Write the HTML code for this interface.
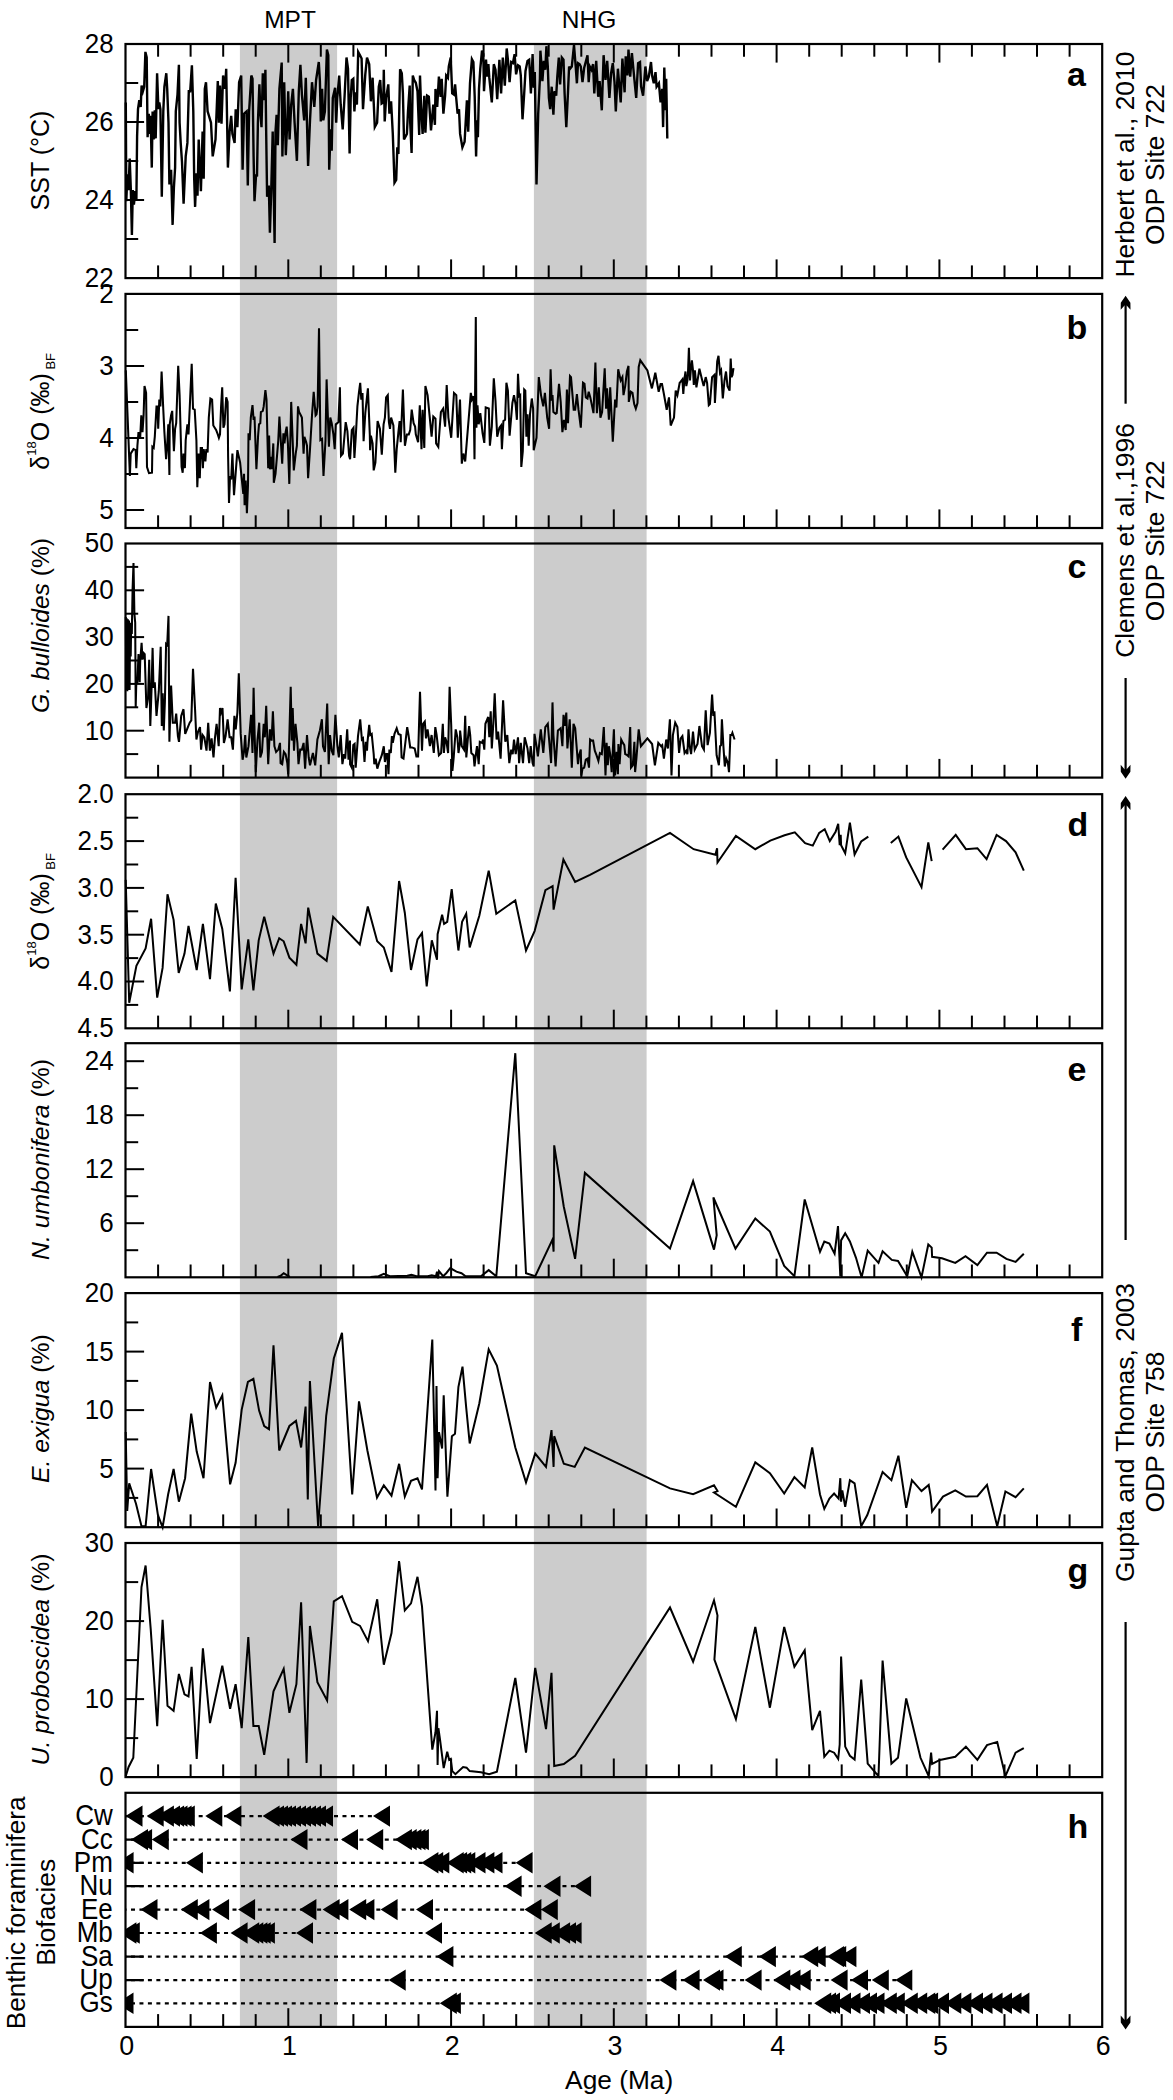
<!DOCTYPE html><html><head><meta charset="utf-8"><style>html,body{margin:0;padding:0;background:#fff;}svg{display:block;}text{font-family:"Liberation Sans", sans-serif;fill:#000;}</style></head><body>
<svg xmlns="http://www.w3.org/2000/svg" width="1173" height="2100" viewBox="0 0 1173 2100">
<rect x="0" y="0" width="1173" height="2100" fill="#fff"/>
<rect x="239.9" y="44" width="97.2" height="1982.8" fill="#cccccc"/>
<rect x="533.9" y="44" width="112.7" height="1982.8" fill="#cccccc"/>
<g fill="none" stroke="#000" stroke-linejoin="miter" stroke-miterlimit="4">
<polyline stroke-width="2.4" points="125.8,102.4 126.3,201.3 127.4,174.3 128.5,190.1 129.7,158.6 130.8,188.9 131.9,235 132.8,190.1 133.9,204.7 135.3,191.2 136.4,199.1 137.1,136.1 138,109.2 139.3,100.2 140.7,106.9 141.6,85.6 142.9,91.2 144.2,86.7 145.4,51.9 146.7,57.5 147.6,137.3 148.8,113.7 149.9,133.9 150.6,115.9 151.8,167.6 152.6,111.4 153.7,139.5 154.8,110.3 155.7,138.4 157.1,73.2 158.4,109.2 159.3,102.4 160.4,109.2 161.8,196.8 163.3,111.4 164.4,86.7 166.3,73.2 167.2,88.9 168.5,122.7 169.4,184.4 171.1,169.8 172.6,224.9 173.9,187.8 175.1,167.6 175.8,111.4 177.5,94.6 178.9,64.8 179.6,122.7 180.7,142.9 182,162 183.6,203.6 185.7,156.4 187.4,142.9 188.8,91.2 190.2,91.2 191.9,65.3 193.3,111.4 194.2,178.8 195.1,206.9 196.4,173.2 197.5,195.7 198.7,139.5 200.9,191.2 202.6,131.6 203.7,178.8 204.8,88.9 206,82.2 207.6,111.4 211,122.7 212.7,156.4 215.5,139.5 217.8,81.1 218.9,122.7 220,85.6 221.5,123.8 223.1,75.5 225.1,88.9 226.2,68.7 227.9,167.6 229.6,131.6 231.2,115.9 232.4,133.9 234.6,142.9 235.7,109.2 237.4,127.1 239.1,82.2 241.2,75.5 242.6,169.8 244,113.7 246.6,111.4 247.8,185.6 249.1,111.4 251.3,75.5 252.5,78.8 253.6,156.4 254.5,201.3 256.1,174.3 257,176.6 257.9,122.7 259.4,84.4 260.3,111.4 261.5,127.1 262.8,73.2 264.3,100.2 265.4,69.8 266.2,133.9 267.1,196.8 268.8,185.6 269.9,232.8 271.3,187.8 272.7,131.6 274.6,242.9 275.5,131.6 276.6,114.8 277.8,145.1 279.4,88.9 281.7,62.5 282.4,156.4 284.2,82.2 285.8,155.2 287.5,117 288.2,91.2 289.6,139.5 291.2,104.7 292.9,88.9 294.6,122.7 296.9,160.9 298.8,91.2 300.4,64.8 301.9,94.6 304.2,120.4 305.8,77.7 308.1,165.9 310,120.4 312,82.2 314.3,106.9 316.1,80 318.8,62 319.9,81.1 320.8,121.5 322.1,88.9 323.3,120.4 324.9,111.4 326.9,49.6 328.3,55.2 329.2,169.8 330.6,129.4 331.7,150.7 332.8,97.9 335.1,87.8 336.2,122.7 337.3,97.9 339.2,75.5 340.7,104.7 342.7,129.4 344.6,95.7 346.5,57.5 348,68.7 349.6,153.6 350.7,97.9 351.8,80 353.3,78.8 354.4,111.4 355.7,92.3 356.9,104.7 358.2,51.9 360,55.2 361.6,58.6 363,109.2 365.3,74.3 367,57.5 369.2,64.2 370.9,101.3 372.6,77.7 374.8,127.1 377.1,122.7 378.8,86.7 380.2,80 381.6,103.6 383.3,102.4 383.8,69.8 384.7,121.5 386.1,97.9 388.3,84.4 389.4,113.7 391.1,101.3 392.8,133.9 394.5,182.8 396.2,180 397.3,147.4 398.4,154.1 399.6,93.4 400.1,69.3 401.8,73.2 402.9,93.4 404,139.5 406.9,133.9 408,111.4 409.7,85.6 410.2,122.7 411.6,153 412.8,75.5 414.2,80 415.8,82.8 417.5,91.2 419.2,135 420,75.5 421.1,106.9 422.6,133.9 424.3,95.7 425.4,132.8 427.1,95.7 428.8,96.8 431,130.5 433.3,104.7 434.9,124.9 435.5,88.9 437.2,106.9 438.9,76.6 440.6,96.8 441.7,78.8 443.4,113.7 445.1,95.7 446.2,75.5 447.9,77.7 448.8,66.5 450.7,57.5 451.1,66.5 452.2,93.4 453.9,94.6 455.1,84.4 456.2,97.9 457.6,113.7 459,109.2 460.1,133.9 462.4,147.4 464.6,141.8 466.9,100.2 468.2,131.6 470,83.3 471.9,59.2 473.4,62 474.7,96.8 476.1,156.4 477,120.4 477.9,137.3 479,88.9 480.3,68.7 482,50.7 483.3,54.1 484,91.2 486,59.7 487.1,76.6 488.4,64.2 489.3,77.7 491.8,102.4 493.8,64.2 495.5,69.8 497.2,99.1 499.4,59.7 501.1,93.4 502.8,57.5 504.8,85.6 506.7,48.5 507.9,59.7 509.6,82.2 511.2,62 512.9,63.1 514.6,54.1 516.1,74.3 518,65.3 519.7,66.5 520.8,75.5 522.5,119.3 524.2,93.4 525.5,71 527.5,60.9 529.2,59.7 530.9,93.4 532.6,54.1 533.7,87.8 534.8,72.1 536.5,184.4 538.2,113.7 539.9,78.8 540.4,50.7 541.6,66.5 542.4,81.1 543.8,60.9 545.3,69.8 546.4,46.2 547.8,66.5 548.9,97.9 550.2,109.2 551.7,86.7 553.4,114.8 554.5,91.2 556.2,95.7 557.3,76.6 558.8,57.5 560.1,84.4 561.8,57.5 563.5,59.7 564.6,93.4 566.3,127.1 568,92.3 569.1,66.5 570.1,68.7 571.8,66.5 574,45.1 575.7,66.5 576.9,83.3 578,63.1 579.7,64.2 580.8,66.5 582.5,82.2 584.2,67.6 587.5,55.2 588.7,82.2 589.8,66.5 591.5,69.8 593.1,64.2 594.3,93.4 596.2,60.9 598.2,96.8 599.6,81.1 601.8,110.3 603.6,55.2 605.5,80 607.2,60.9 609.4,97.9 611.1,73.2 612.8,63.1 614.5,82.2 615.8,111.4 617.9,68.7 620.7,102.4 622.4,58.6 624.6,92.3 625.7,56.4 627.4,75.5 628.5,49.6 630.2,76.6 631.9,53 634.2,77.7 636.2,97.9 638.1,63.1 640,62 641.1,86.7 643.1,95.7 645.4,66.5 647.1,81.1 648.8,76.6 651,62 652.1,75.5 653.8,83.3 655.5,72.1 656.6,86.7 658.9,83.3 660.6,102.4 662.2,88.9 663.1,127.1 664.3,67.6 665.6,110.3 666.2,78.8 667.3,138.4"/>
<polyline stroke-width="2.05" points="125.8,370.4 129.9,476 130.7,453.6 133.5,449.1 135.7,450.2 136.3,468.2 137.4,445.7 138.5,432.2 140.2,437.8 141.3,415.3 142.5,432.2 143.6,415.3 144.5,386.1 146.1,392.9 147,467 149,473.2 152,472.7 152.4,446.8 153.7,447.9 154.8,436.7 156.5,406.4 157.6,406.4 158.2,428.8 159.3,399.6 160.4,406.4 161.6,371.5 163.3,409.7 164.4,432.2 166.1,459.2 167.2,445.7 168.3,424.3 169.4,474.9 169.7,424.3 171.1,415.3 172.2,410.9 173.9,451.3 175.1,428.8 176.2,423.2 178.2,365.9 179.6,395.1 181.6,467 182.7,472.7 183.5,453.6 184.9,468.2 185.7,440.1 187.4,424.3 188.5,434.4 189.7,408.6 191.7,363.7 193,408.6 194.7,409.7 196.4,440.1 197.3,487.3 198.7,453.6 199.8,478.3 200.7,447.9 202,447.9 202.9,468.2 203.7,449.1 205.4,461.4 206.3,449.1 207.6,452.4 208.8,417.6 210.4,398.5 212.1,399.6 213.3,425.5 216.1,430 217.8,434.4 218.9,437.8 220,434.4 221.1,406.4 222.2,387.3 223.4,427.7 224.5,424.3 226.2,397.4 227.6,401.9 228.1,455.8 229,503 230.1,476 231.2,479.4 232.4,453.6 234,495.1 235.7,472.7 237.4,450.2 240.1,462.5 241.8,479.4 243.3,494 244,473.8 244.6,505.2 245.7,480.5 246.9,513.1 248,485 248.5,433.3 249.7,440.1 250.8,417.6 252.5,405.2 253.6,419.8 254.5,416.5 256.4,469.3 258.1,435.6 259,424.3 260.3,423.2 260.9,412 262.8,410.9 263.7,406.4 265.4,390.1 266.5,399.6 268.2,468.2 269.1,435.6 269.9,469.3 271,456.9 271.8,469.3 273.3,443.4 273.8,482.8 275.5,473.8 277.2,453.6 278.3,440.1 279.4,416.5 281.1,445.7 282.2,463.7 283.4,433.3 284.5,443.4 285.6,432.2 286.7,426.6 287.9,443.4 289.3,483.9 291.2,401.9 293.8,470.4 295.7,453.6 296.9,445.7 298,406.4 299.1,412 300.8,415.3 301.9,417.6 303.6,453.6 304.4,436.7 306.2,442.3 307,445.7 308.1,478.3 310,449.1 312,415.3 313.7,391.8 315.6,415.3 316.5,414.2 317.6,406.4 319,328.3 320.4,440.1 322.1,438.9 323.5,476 325.5,440.1 326.6,379.4 328.9,446.8 330.3,417.6 331.7,423.2 333.4,434.4 334.7,449.1 335.8,424.3 337.3,423.2 338.4,422.1 339.9,387.3 341,455.8 342.9,453.6 345.7,422.1 347.4,431.1 349.1,455.8 350.1,459.2 351.8,430 353.5,427.7 354.4,458 355.7,437.8 357.4,406.4 358.9,392.9 360.2,382.8 361.3,399.6 362.5,392.9 363.6,441.2 365.3,413.1 367.9,388.4 369.8,434.4 370.1,450.2 370.9,435.6 372.6,443.4 373.7,470.4 375.4,462.5 377.6,421 379.9,428.8 381.8,454.7 383.6,424.3 384.9,417.6 386.1,397.4 387.8,395.1 388.9,422.1 390,428.8 391.1,417.6 393.4,425.5 395.3,472.7 396.7,449.1 398.4,432.2 399.6,421 400.7,442.3 402.9,389.5 404.9,445.7 406.9,434.4 408.8,434.4 410.2,430 411.7,409.7 413.6,423.2 415.1,426.6 415.8,434.4 418.1,442.3 419.8,405.2 421.5,449.1 422.6,409.7 424.3,447.9 425.4,386.1 427.6,395.1 431.6,436.7 433.3,416.5 435.5,418.7 436.1,443.4 438.3,446.8 440.9,412 443.1,408.6 445.1,426.6 446.7,385 448.4,417.6 451.2,437.8 454,392.9 456.3,395.1 457.8,437.8 460,399.6 461.8,463.7 463.3,453.6 465.2,461.4 470.8,392.9 471.9,399.6 473.6,396.2 474.5,459.2 475.8,317 476.4,427.7 477.5,405.2 478.7,424.3 480.3,413.1 482.6,433.3 484.3,442.9 485.7,407.5 488.8,408.6 489.9,445.7 491.8,426.6 493.8,378.3 495.5,400.7 497.2,436.7 499.4,427.7 501.1,425.5 501.9,449.1 503.4,421 505.1,419.8 506.4,382.8 507.9,390.6 509.6,435.6 512.4,403 514,395.1 515.7,405.2 516.9,419.8 518,373.8 519.1,396.2 520.2,395.1 521.3,467 522.8,451.3 524.2,389.5 525.3,390.6 526.4,436.7 527.5,414.2 528.7,445.7 530,414.2 531.8,398.5 533.1,408.6 533.7,450.2 536.5,437.8 538.8,377.1 541,395.1 543.3,406.4 544.9,392.9 547.2,417.6 549.1,428.8 550.6,369.3 551.7,400.7 552.5,395.1 553.4,412 555.6,413.7 556.7,413.1 559,383.9 560.7,401.9 562.4,432.2 564,419.8 565.7,430 566.9,389.5 568,423.2 570,376 571,377.1 573.7,409.7 575.2,409.7 576.9,394 578.5,409.7 580.8,427.7 583,382.8 584.5,383.9 585.8,397.4 587.5,398.5 588.7,391.8 590.3,397.4 593.5,413.1 595.4,362.5 596.9,413.1 598.8,387.3 600.4,417.6 602.1,412 604.7,368.2 606.1,408.6 607,388.4 608.9,419.8 610.2,387.3 612.8,441.8 615.1,399.6 616.4,407.5 618.2,369.3 620.7,380.5 622.4,377.1 623.5,395.1 625.2,386.1 626.9,371.5 628.5,365.9 628.8,401.9 630.8,391.8 632.5,392.9 634.2,404.1 635.8,408.6 637.5,403 638.7,367 640.3,360.3 647.4,370.4 651.9,388.4 655.3,372.7 658.7,391.8 660.6,383.9 662,383.9 663.9,394 666.7,409.7 669,397.4 670.7,425.5 674,417.6 675.7,390.6 677.4,395.1 679.7,382.8 680.7,381.6 682.4,379.4 683.3,394 684.4,379.4 685.5,371.5 686.3,386.1 687.4,380.5 688,372.7 688.9,347.9 690,380.5 690.8,370.4 691.9,360.3 693,370.4 693.8,385 694.9,370.4 696.4,387.3 698.1,377.1 699.4,368.7 702,379.4 703.7,386.1 705.7,377.1 707.1,382.8 708.8,405.2 709.9,404.1 712.1,377.1 714.4,374.9 714.9,403 716.1,382.8 717.2,361.4 718.5,355.8 720,372.7 721.1,370.4 722.8,398.5 724.5,380.5 726,371.5 727.5,386.1 729.6,390.6 730.7,358.6 731.6,377.1 732.5,374.9 733.5,368.2"/>
<polyline stroke-width="2.05" points="125.8,617 126.3,690.1 126.7,618.2 127.3,691.2 127.9,619.3 128.4,690.1 129,620.4 129.6,690.1 130.1,622.7 130.7,656.4 131.2,622.7 131.8,633.9 132.6,588.9 133.5,563.1 134.4,613.7 135.2,622.7 135.7,706.9 136.3,682.2 137.4,682.2 138.5,654.1 139.7,682.2 140.2,662 141.6,642.9 142.5,659.7 143.6,653 144.7,654.1 146.4,708 148.1,696.8 149.2,659.7 150.3,726 151.5,690.1 152.6,647.9 153.5,687.8 154.8,682.2 156.5,715.9 158.8,691.2 160.7,646.8 161.8,726 162.7,693.4 163.8,730.5 164.9,701.3 166.1,644 167.2,645.1 168.5,615.9 169.4,741.8 171.1,685.6 172.8,722.7 175.1,722.7 176.2,713.7 177.9,736.1 179,741.8 181.2,715.9 183.5,709.2 185.2,733.9 187.4,728.3 189.7,722.7 191.3,720.4 193,668.7 195.1,710.3 196.4,739.5 198.1,731.6 200,727.1 201.1,749.6 202.6,735 204.3,737.3 206.5,750.7 208.2,722.7 209.9,750.7 211.6,738.4 213.5,757.5 214.9,738.4 216.6,723.8 218.7,746.2 220,708 221.1,712.5 222.5,708 223.9,742.9 225.6,736.1 227.6,719.3 229.6,737.3 231.2,737.3 232.9,749.6 234.4,715.9 235.7,729.4 237.4,712.5 238.8,673.2 240.7,733.9 242.6,759.7 244,751.9 245.2,735 246.3,757.5 248.5,746.2 251.1,714.8 252.5,753 253.6,687.8 254.7,737.3 255.8,772.1 257.5,739.5 259.2,722.7 260.3,757.5 262,751.9 263.7,723.8 264.8,737.3 266.2,705.8 268.2,764.2 269.9,729.4 271.6,740.6 272.9,711.4 274.4,746.2 276.1,751.9 278.3,749.6 280,742.9 280.6,763.1 282.2,764.2 283.9,751.9 285.6,754.1 287.3,763.1 288.2,774.3 289.3,737.3 290.7,686.7 291.8,740.6 292.7,708 294,750.7 295.5,723.8 297.4,742.9 298.5,764.2 300.2,749.6 301.9,749.6 303.6,742.9 305.1,768.7 307,735 308.7,757.5 310,765.3 312.9,753 315.2,765.3 317.4,739.5 319.9,730.5 321.9,719.3 323,746.2 324.9,751.9 327.2,703.6 328.7,764.2 330,735 331.7,750.7 333.4,755.2 335.4,714.8 337.3,745.1 338.8,757.5 340.7,735 342.4,764.2 344,754.1 345.2,758.6 347.2,729.4 348.5,759.7 350,740.6 350.1,764.2 351.8,767.6 353.3,745.1 354.6,744 355.7,767.6 358,736.1 360.2,719.3 361.9,739.5 363,738.4 364.5,762 365.8,741.8 367,750.7 367.5,741.8 369.2,724.9 370.3,735 371.7,733.9 373.7,754.1 374.3,764.2 375.7,758.6 377.3,768.7 379.3,762 381.8,755.2 383.8,746.2 384.9,762 386.3,754.1 387.2,754.1 388.5,774.3 389.4,749.6 390.8,753 391.9,736.1 392.8,742.9 394.5,733.9 396.7,728.3 398.4,733.9 400.7,735 401.6,757.5 403.5,758.6 405.2,744 407.2,727.1 408.5,735 410.2,747.4 411.9,747.4 414.7,748.5 416.4,756.4 418.1,756.4 420,691.8 422,750.7 423.1,723.8 424.8,721.5 426,738.4 427.6,729.4 429.9,746.2 431.6,735 433.8,753 435.3,727.1 436.6,735 438.9,755.2 441.1,753 442.8,723.8 443.9,753 445.1,737.3 446.5,741.8 448.1,753 449.6,686.7 451.2,724.9 452.4,771 453.7,757.5 455.7,729.4 457.4,737.3 458.5,753 460,741.8 460.1,730.5 461.8,746.2 464,749.6 465.2,715.9 466.3,757.5 467.8,739.5 469.1,726 470.2,735 471.3,753 473.6,755.2 474.5,766.5 475.8,755.2 477,746.2 478.7,764.2 479.8,741.8 482,742.9 483.1,739.5 484.3,749.6 485.4,723.8 488.2,717 489.3,737.3 490.7,711.4 491.8,748.5 493.3,723.8 494.7,693.4 496.6,739.5 498.1,731.6 500.6,758.6 503.1,700.2 505.3,741.8 507.3,735 509.3,763.1 511.2,749.6 512.7,754.1 514,739.5 515.7,754.1 518,737.3 519.1,763.1 520.8,742.9 523,763.1 524.7,737.3 527.5,748.5 529.2,763.1 530.7,746.2 532.6,763.1 533.7,766.5 534.5,733.9 536.5,746.2 537.9,756.4 540.8,729.4 543.3,753 545.3,727.1 547.8,723.8 548.7,735 551.1,763.1 552.5,702.4 553.4,735 555.6,766.5 557.9,730.5 560.7,728.3 562.4,746.2 563.5,714.8 564.8,726 566.3,712.5 567.4,748.5 569.7,719.3 571.8,767.6 573.5,723.8 575.2,728.3 578,764.2 579.1,755.2 580.8,749.6 581.3,775.5 582.5,768.7 584.2,767.6 585.8,759.7 587.5,758.6 589,767.6 590.1,739.5 591.5,740.6 593.1,740.6 594.8,750.7 596.5,755.2 598.4,760.9 599.9,753 601.8,754.1 603.8,727.1 605.5,775.5 606.6,742.9 607.8,765.3 608.9,746.2 610.3,755.2 611.7,772.1 612.8,750.7 613.9,729.4 615.1,775.5 616.7,751.9 617.9,774.3 618.4,744 619.6,764.2 621.2,739.5 622.9,742.9 624.3,745.1 625.2,754.1 627.2,755.2 628.5,756.4 630.2,727.1 631,767.6 632.8,765.3 634.4,741.8 635.1,772.1 636.4,758.6 638.7,729.4 640.9,746.2 647.4,738.4 652.1,744 654.9,765.3 658.3,742.9 661.1,746.2 662.2,745.1 663.9,758.6 666.2,739.5 667.9,748.5 668.4,739.5 669.9,719.3 671.5,775.5 672.9,735 675.2,722.7 677.4,727.1 679.1,753 680.7,738.4 682.4,736.1 684.6,753 686.3,750.7 687.4,754.1 688.5,729.4 689.7,746.2 691.1,754.1 693,731.6 694.7,749.6 697.5,744 699.4,726 702,746.2 703.9,749.6 705.7,710.3 707.6,745.1 709.9,732.8 712.1,694.6 713.3,715.9 714.4,711.4 716.6,755.2 718.9,765.3 720,746.2 721.1,745.1 721.9,719.3 723.4,746.2 724.8,766.5 726.2,758.6 727.9,763.1 729,772.1 730.4,735 731.6,735 732.4,732.8 734.6,739.5"/>
<polyline stroke-width="2.0" points="125.7,879.9 129.2,1002.7 136.4,965.9 145.6,948.5 151.1,918.8 157.2,997.6 162.6,967.9 167.5,894.3 173.6,919.8 178.7,973 184.5,953.6 188.5,926 196.7,970 202.9,923.9 210,979.2 215.8,903.5 222.3,929 229.9,991.4 235.6,877.9 241.7,989.4 248.3,939.3 253.4,990.4 258.7,940.3 264.2,916.8 273.5,953.6 279.2,938.2 283.7,941.3 289.4,957.7 296.4,964.8 301.1,923.9 305.6,943.4 308.2,907.6 317.4,953.6 326.6,960.8 333.2,916.8 359.8,944.4 367.8,906.5 377.2,941.3 383.8,947.5 391.5,972 399.1,881 404.8,912.7 411,970 417.5,939.3 422,933.1 426.7,986.3 431.8,940.3 437,959.7 437.6,934.2 442.1,914.7 444.1,923.9 447.2,921.9 451.7,889.1 458.4,950.5 462.1,921.9 466.2,913.7 469.7,947.5 479.3,915.7 488.7,870.7 496.3,913.7 515.3,900.4 526,950.5 534.6,931.1 545.4,890.2 552.6,886.1 553.6,909.6 563.4,859.5 575.1,882 590,874.8 670,832.9 693.6,849.2 715.4,854.8 717.1,848.2 717.3,855.4 717.5,862.5 735.9,835.9 755.3,849.2 770.3,840.6 784.6,835.3 794.8,832.3 805.1,843.1 812.8,845.6 819.2,832.9 824.7,829.2 829.8,841.1 835.6,831.9 838.2,823.7 839.7,845.2 840.7,834.9 841.1,845.2 845.2,853.3 849.9,822.6 854.6,854.4 861.2,841.5 868.3,836.6"/>
<polyline stroke-width="2.0" points="890.8,843.1 898.4,836.6 906.2,857.4 921.5,887.1 928.3,842.5 931.7,861.1"/>
<polyline stroke-width="2.0" points="942.6,849.7 955.7,834.9 965.9,849.2 977.4,848.2 986.6,859.1 996.6,834.9 1006,841.1 1015.6,852.3 1023.8,870.7"/>
<polyline stroke-width="2.0" points="277.5,1276.9 280.6,1275.8 283.7,1273.2 286.8,1275.2 289.8,1276.9"/>
<polyline stroke-width="2.0" points="370.5,1276.9 378.6,1276.2 383.8,1273.8 389.9,1276.2 407.3,1275.8 411.4,1274.8 416.5,1276.2 427.7,1276.2 431.8,1275.2 435.9,1276.2 437,1271.7 438,1278.3 439,1271.1 443.1,1276.2 446.2,1273.2 450.3,1268.1 456.4,1271.7 461.5,1273.2 465.6,1276.2 480.9,1276.2 488.7,1270.1 496.3,1276.2 515.3,1053.2 526,1273.2 535.2,1276.2 552.6,1239.4 553.6,1251.7 554.2,1145.3 563.8,1206.7 575.1,1258.9 584.9,1172.9 670,1248.6 693.1,1181.1 714,1249.6 716.7,1235.3 713.4,1197.5 735.5,1248.6 755.3,1218.5 769.9,1231.6 784.2,1266 794.4,1276.2 804.7,1199.5 820,1251.7 824.3,1241.5 829.4,1243.5 834.6,1253.7 838,1226.1 840.3,1276.2 841.1,1240.4 845.2,1233.3 849.9,1241.5 856,1257.8 861.6,1277.3 867.7,1250.7 878.5,1262.9 882.6,1251.3 891.8,1259.9 898,1260.9 907.2,1276.2 912.3,1251.7 921.5,1277.3 928.3,1244.5 931.7,1247.6 932.1,1256.8 942,1258.2 955.3,1262.9 965.5,1256.2 977.4,1265 987,1252.7 996.6,1252.7 1006.4,1258.9 1015.6,1261.9 1023.8,1253.7"/>
<polyline stroke-width="2.0" points="125.7,1432.1 127.2,1510.9 129.2,1483.3 136,1503.7 141.5,1526.2 145.6,1526.2 151.1,1469 157.9,1515 162.6,1527.3 168.1,1494.5 173.6,1469 178.9,1501.7 185.1,1478.2 191.2,1413.7 196.7,1451.6 203.5,1478.2 210,1382 216.2,1407.6 222.3,1395.3 230.1,1484.3 235.6,1462.8 241.7,1409.6 247.9,1382 253.4,1378.9 259.1,1410.6 264.2,1426 269,1429.1 273.5,1345.2 279.2,1450.5 289.4,1426 296,1420.9 301.1,1447.5 305.6,1406.6 307.8,1499.6 309.9,1381 318.1,1526.2 326.2,1415.8 333.8,1358.5 342,1332.9 352.2,1494.5 359,1401.4 367.4,1450.5 377,1497.6 383.8,1485.3 391.5,1495.6 399.1,1463.8 404.8,1496.6 411,1480.8 417.5,1478.2 422,1489.4 432.3,1339.6 435.5,1490.4 436.5,1386.1 437.6,1478.2 439,1432.1 442.1,1448.5 443.7,1395.3 447.4,1496.6 451.9,1436.2 455,1433.8 458.4,1387.1 462.5,1366.7 466.2,1407.6 469.7,1443.4 479.3,1403.5 488.7,1349.3 496.9,1365.6 515.3,1447.5 526,1482.3 535.2,1453.6 546,1466.9 551.5,1430.1 553.6,1466.9 554.2,1436.2 563.8,1463.8 574.7,1466.9 584.9,1447.5 670,1488.4 693.1,1494.1 714,1485.3 717.5,1491.1 714,1492.5 735.9,1506.8 755.3,1462.4 769.9,1473.1 784.2,1493.5 794.4,1477.1 804.7,1487.4 812.2,1447.5 820,1494.5 824.3,1508.9 829.4,1498.6 834.1,1493.5 838.6,1498.6 840.3,1478.2 841.1,1501.7 842.3,1490.4 845.2,1506.8 849.9,1480.2 854.6,1483.3 861.2,1526.2 867.3,1515 882.6,1472 891.4,1480.2 898.4,1455.7 906.2,1507.8 911.9,1480.2 921.5,1491.1 928.7,1484.9 930.7,1496.6 932.1,1511.5 943,1496.6 955.3,1490.4 965.9,1496.6 977.4,1496.2 987,1484.9 997.2,1526.2 1005.4,1491.5 1015.6,1497.2 1023.8,1488.4"/>
<polyline stroke-width="2.0" points="125.7,1776.2 128.6,1767 133.3,1757.8 141.5,1587 145.6,1565.5 150.7,1628.9 157.2,1726.1 162.6,1619.7 167.5,1705.7 173.6,1710.8 178.9,1673.9 184.5,1694.4 188.5,1696.5 191.6,1666.8 196.7,1758.9 202.9,1648.4 210,1723.1 222.3,1665.8 230.1,1708.7 235.6,1684.2 241.7,1728.2 248.3,1637.1 253.4,1726.1 258.7,1726.1 264.2,1754.8 273.5,1691.3 283.7,1668.8 289.4,1712.8 296.4,1684.2 301.1,1602.3 306.6,1762.9 309.9,1625.9 317.4,1682.1 327.1,1700.5 333.8,1601.3 342,1596.2 352.2,1621.8 360,1625.9 368,1641.2 377.2,1599.3 383.8,1664.7 391.5,1633 399.1,1561 404.8,1610.5 411,1603.4 417.5,1576.8 422,1606.4 432.3,1749.6 435.5,1732.3 437,1710.8 437.6,1765 438.4,1728.2 440,1739.4 443.7,1768.1 447.2,1751.7 449.2,1759.9 450.7,1758.9 452.3,1771.1 455.4,1774.2 463.1,1767 466.6,1767.7 469.7,1771.1 480.9,1772.2 489.1,1774.2 496.9,1771.7 515.3,1678 526,1752.7 535.2,1667.8 546,1729.2 551.5,1672.9 554.2,1766 563.8,1764 575.1,1755.8 670,1607.5 693.1,1661.7 714,1600.3 717.5,1615.6 714.4,1659.6 735.9,1719 755.3,1626.9 769.9,1707.7 784.2,1626.9 794.4,1666.8 804.7,1650.4 812.2,1730.2 820,1710.8 824.3,1756.8 829.4,1750.7 834.1,1752.7 838.2,1758.9 839.7,1744.5 841.1,1656.6 845.2,1746.6 849.9,1755.8 854.6,1759.5 861.2,1679.7 867.7,1763.6 878.5,1776.2 882.6,1660.6 891.4,1763.6 898,1757.8 906.2,1698.5 920.5,1757.8 928.7,1776.2 931.1,1752.7 932.1,1764 939.9,1759.9 955.3,1756.8 965.9,1746.6 977.4,1759.9 987,1745.1 997.2,1741.9 1005.4,1776.2 1015.6,1752.7 1023.8,1748.2"/>
</g>
<defs><clipPath id="cph"><rect x="125.3" y="1792" width="977" height="235"/></clipPath></defs>
<g clip-path="url(#cph)">
<g stroke="#000" stroke-width="2.2" stroke-dasharray="4 4.46" stroke-dashoffset="2.78" fill="none">
<line x1="125.3" y1="1816.1" x2="381.5" y2="1816.1"/>
<line x1="125.3" y1="1839.6" x2="420.4" y2="1839.6"/>
<line x1="125.3" y1="1862.8" x2="524.1" y2="1862.8"/>
<line x1="125.3" y1="1886.2" x2="582.6" y2="1886.2"/>
<line x1="125.3" y1="1909.6" x2="549.3" y2="1909.6"/>
<line x1="125.3" y1="1933" x2="573.1" y2="1933"/>
<line x1="125.3" y1="1956.6" x2="847.9" y2="1956.6"/>
<line x1="125.3" y1="1980.1" x2="903.8" y2="1980.1"/>
<line x1="125.3" y1="2003.3" x2="1020.9" y2="2003.3"/>
</g>
<g stroke="#000" stroke-width="2.2">
<line x1="125.3" y1="1816.1" x2="143.8" y2="1816.1"/>
<line x1="125.3" y1="1839.6" x2="143.8" y2="1839.6"/>
<line x1="125.3" y1="1862.8" x2="143.8" y2="1862.8"/>
<line x1="125.3" y1="1886.2" x2="143.8" y2="1886.2"/>
<line x1="125.3" y1="1933" x2="143.8" y2="1933"/>
<line x1="125.3" y1="1956.6" x2="143.8" y2="1956.6"/>
<line x1="125.3" y1="1980.1" x2="143.8" y2="1980.1"/>
</g>
<path fill="#000" d="M125.5,1816.1L142.5,1805.4L142.5,1826.8ZM146.7,1816.1L163.7,1805.4L163.7,1826.8ZM156.9,1816.1L173.9,1805.4L173.9,1826.8ZM163,1816.1L180,1805.4L180,1826.8ZM167.1,1816.1L184.1,1805.4L184.1,1826.8ZM170.5,1816.1L187.5,1805.4L187.5,1826.8ZM174.6,1816.1L191.6,1805.4L191.6,1826.8ZM177.8,1816.1L194.8,1805.4L194.8,1826.8ZM205.3,1816.1L222.3,1805.4L222.3,1826.8ZM224.4,1816.1L241.4,1805.4L241.4,1826.8ZM262.6,1816.1L279.6,1805.4L279.6,1826.8ZM267,1816.1L284,1805.4L284,1826.8ZM271,1816.1L288,1805.4L288,1826.8ZM275,1816.1L292,1805.4L292,1826.8ZM279,1816.1L296,1805.4L296,1826.8ZM284,1816.1L301,1805.4L301,1826.8ZM289,1816.1L306,1805.4L306,1826.8ZM294,1816.1L311,1805.4L311,1826.8ZM299,1816.1L316,1805.4L316,1826.8ZM304,1816.1L321,1805.4L321,1826.8ZM309,1816.1L326,1805.4L326,1826.8ZM316,1816.1L333,1805.4L333,1826.8ZM373,1816.1L390,1805.4L390,1826.8ZM131,1839.6L148,1828.9L148,1850.3ZM135.1,1839.6L152.1,1828.9L152.1,1850.3ZM151.8,1839.6L168.8,1828.9L168.8,1850.3ZM290.5,1839.6L307.5,1828.9L307.5,1850.3ZM341,1839.6L358,1828.9L358,1850.3ZM366.2,1839.6L383.2,1828.9L383.2,1850.3ZM394.9,1839.6L411.9,1828.9L411.9,1850.3ZM399.7,1839.6L416.7,1828.9L416.7,1850.3ZM404.4,1839.6L421.4,1828.9L421.4,1850.3ZM408.5,1839.6L425.5,1828.9L425.5,1850.3ZM411.9,1839.6L428.9,1828.9L428.9,1850.3ZM116.6,1862.8L133.6,1852.1L133.6,1873.5ZM185.9,1862.8L202.9,1852.1L202.9,1873.5ZM421.4,1862.8L438.4,1852.1L438.4,1873.5ZM426.2,1862.8L443.2,1852.1L443.2,1873.5ZM432.3,1862.8L449.3,1852.1L449.3,1873.5ZM446.7,1862.8L463.7,1852.1L463.7,1873.5ZM450.1,1862.8L467.1,1852.1L467.1,1873.5ZM454.2,1862.8L471.2,1852.1L471.2,1873.5ZM458.3,1862.8L475.3,1852.1L475.3,1873.5ZM468.5,1862.8L485.5,1852.1L485.5,1873.5ZM477.4,1862.8L494.4,1852.1L494.4,1873.5ZM485.5,1862.8L502.5,1852.1L502.5,1873.5ZM515.6,1862.8L532.6,1852.1L532.6,1873.5ZM504.6,1886.2L521.6,1875.5L521.6,1896.9ZM543.5,1886.2L560.5,1875.5L560.5,1896.9ZM574.1,1886.2L591.1,1875.5L591.1,1896.9ZM140.5,1909.6L157.5,1898.9L157.5,1920.3ZM180.8,1909.6L197.8,1898.9L197.8,1920.3ZM192.4,1909.6L209.4,1898.9L209.4,1920.3ZM212.1,1909.6L229.1,1898.9L229.1,1920.3ZM238.1,1909.6L255.1,1898.9L255.1,1920.3ZM299.4,1909.6L316.4,1898.9L316.4,1920.3ZM322.6,1909.6L339.6,1898.9L339.6,1920.3ZM331.4,1909.6L348.4,1898.9L348.4,1920.3ZM349.2,1909.6L366.2,1898.9L366.2,1920.3ZM357.4,1909.6L374.4,1898.9L374.4,1920.3ZM380.6,1909.6L397.6,1898.9L397.6,1920.3ZM416,1909.6L433,1898.9L433,1920.3ZM524.4,1909.6L541.4,1898.9L541.4,1920.3ZM540.8,1909.6L557.8,1898.9L557.8,1920.3ZM119.4,1933L136.4,1922.3L136.4,1943.7ZM122.8,1933L139.8,1922.3L139.8,1943.7ZM199.9,1933L216.9,1922.3L216.9,1943.7ZM230.6,1933L247.6,1922.3L247.6,1943.7ZM242.2,1933L259.2,1922.3L259.2,1943.7ZM246.3,1933L263.3,1922.3L263.3,1943.7ZM250.4,1933L267.4,1922.3L267.4,1943.7ZM253.7,1933L270.7,1922.3L270.7,1943.7ZM257.9,1933L274.9,1922.3L274.9,1943.7ZM296,1933L313,1922.3L313,1943.7ZM425,1933L442,1922.3L442,1943.7ZM534.7,1933L551.7,1922.3L551.7,1943.7ZM542.8,1933L559.8,1922.3L559.8,1943.7ZM553.1,1933L570.1,1922.3L570.1,1943.7ZM559,1933L576,1922.3L576,1943.7ZM564.6,1933L581.6,1922.3L581.6,1943.7ZM436.4,1956.6L453.4,1945.9L453.4,1967.3ZM724.8,1956.6L741.8,1945.9L741.8,1967.3ZM758.9,1956.6L775.9,1945.9L775.9,1967.3ZM801.2,1956.6L818.2,1945.9L818.2,1967.3ZM808.7,1956.6L825.7,1945.9L825.7,1967.3ZM827.1,1956.6L844.1,1945.9L844.1,1967.3ZM829.2,1956.6L846.2,1945.9L846.2,1967.3ZM839.4,1956.6L856.4,1945.9L856.4,1967.3ZM388.7,1980.1L405.7,1969.4L405.7,1990.8ZM659.4,1980.1L676.4,1969.4L676.4,1990.8ZM682.6,1980.1L699.6,1969.4L699.6,1990.8ZM703,1980.1L720,1969.4L720,1990.8ZM706.5,1980.1L723.5,1969.4L723.5,1990.8ZM744.6,1980.1L761.6,1969.4L761.6,1990.8ZM773.3,1980.1L790.3,1969.4L790.3,1990.8ZM783.5,1980.1L800.5,1969.4L800.5,1990.8ZM793.7,1980.1L810.7,1969.4L810.7,1990.8ZM830.6,1980.1L847.6,1969.4L847.6,1990.8ZM851,1980.1L868,1969.4L868,1990.8ZM871.8,1980.1L888.8,1969.4L888.8,1990.8ZM895.3,1980.1L912.3,1969.4L912.3,1990.8ZM116.5,2003.3L133.5,1992.6L133.5,2014ZM439.8,2003.3L456.8,1992.6L456.8,2014ZM443.9,2003.3L460.9,1992.6L460.9,2014ZM814.2,2003.3L831.2,1992.6L831.2,2014ZM819,2003.3L836,1992.6L836,2014ZM823,2003.3L840,1992.6L840,2014ZM834,2003.3L851,1992.6L851,2014ZM843.5,2003.3L860.5,1992.6L860.5,2014ZM853,2003.3L870,1992.6L870,2014ZM860,2003.3L877,1992.6L877,2014ZM867.5,2003.3L884.5,1992.6L884.5,2014ZM879.8,2003.3L896.8,1992.6L896.8,2014ZM887.8,2003.3L904.8,1992.6L904.8,2014ZM900.8,2003.3L917.8,1992.6L917.8,2014ZM910.2,2003.3L927.2,1992.6L927.2,2014ZM918.2,2003.3L935.2,1992.6L935.2,2014ZM921.1,2003.3L938.1,1992.6L938.1,2014ZM932,2003.3L949,1992.6L949,2014ZM944.3,2003.3L961.3,1992.6L961.3,2014ZM954.4,2003.3L971.4,1992.6L971.4,2014ZM966,2003.3L983,1992.6L983,2014ZM975.5,2003.3L992.5,1992.6L992.5,2014ZM985.6,2003.3L1002.6,1992.6L1002.6,2014ZM995,2003.3L1012,1992.6L1012,2014ZM1004.5,2003.3L1021.5,1992.6L1021.5,2014ZM1012.4,2003.3L1029.4,1992.6L1029.4,2014Z"/>
</g>
<g font-size="26" text-anchor="end">
<text transform="translate(112.8,1825.1) scale(1,1.1)">Cw</text>
<text transform="translate(112.8,1848.6) scale(1,1.1)">Cc</text>
<text transform="translate(112.8,1871.8) scale(1,1.1)">Pm</text>
<text transform="translate(112.8,1895.2) scale(1,1.1)">Nu</text>
<text transform="translate(112.8,1918.6) scale(1,1.1)">Ee</text>
<text transform="translate(112.8,1942) scale(1,1.1)">Mb</text>
<text transform="translate(112.8,1965.6) scale(1,1.1)">Sa</text>
<text transform="translate(112.8,1989.1) scale(1,1.1)">Up</text>
<text transform="translate(112.8,2012.3) scale(1,1.1)">Gs</text>
</g>
<g fill="none" stroke="#000" stroke-width="2.2" stroke-linecap="square">
<rect x="125.5" y="44" width="976.7" height="234.1"/>
<rect x="125.5" y="293.9" width="976.7" height="234.1"/>
<rect x="125.5" y="543.5" width="976.7" height="234.1"/>
<rect x="125.5" y="794.2" width="976.7" height="234.1"/>
<rect x="125.5" y="1043.2" width="976.7" height="234.1"/>
<rect x="125.5" y="1293.1" width="976.7" height="234.1"/>
<rect x="125.5" y="1543" width="976.7" height="234.1"/>
<rect x="125.5" y="1792.8" width="976.7" height="234.1"/>
</g>
<g stroke="#000" stroke-width="2">
<line x1="158.1" y1="278.1" x2="158.1" y2="265.4"/>
<line x1="158.1" y1="44" x2="158.1" y2="56.7"/>
<line x1="190.6" y1="278.1" x2="190.6" y2="265.4"/>
<line x1="190.6" y1="44" x2="190.6" y2="56.7"/>
<line x1="223.2" y1="278.1" x2="223.2" y2="265.4"/>
<line x1="223.2" y1="44" x2="223.2" y2="56.7"/>
<line x1="255.7" y1="278.1" x2="255.7" y2="265.4"/>
<line x1="255.7" y1="44" x2="255.7" y2="56.7"/>
<line x1="288.3" y1="278.1" x2="288.3" y2="259.4"/>
<line x1="288.3" y1="44" x2="288.3" y2="62.6"/>
<line x1="320.8" y1="278.1" x2="320.8" y2="265.4"/>
<line x1="320.8" y1="44" x2="320.8" y2="56.7"/>
<line x1="353.4" y1="278.1" x2="353.4" y2="265.4"/>
<line x1="353.4" y1="44" x2="353.4" y2="56.7"/>
<line x1="385.9" y1="278.1" x2="385.9" y2="265.4"/>
<line x1="385.9" y1="44" x2="385.9" y2="56.7"/>
<line x1="418.5" y1="278.1" x2="418.5" y2="265.4"/>
<line x1="418.5" y1="44" x2="418.5" y2="56.7"/>
<line x1="451.1" y1="278.1" x2="451.1" y2="259.4"/>
<line x1="451.1" y1="44" x2="451.1" y2="62.6"/>
<line x1="483.6" y1="278.1" x2="483.6" y2="265.4"/>
<line x1="483.6" y1="44" x2="483.6" y2="56.7"/>
<line x1="516.2" y1="278.1" x2="516.2" y2="265.4"/>
<line x1="516.2" y1="44" x2="516.2" y2="56.7"/>
<line x1="548.7" y1="278.1" x2="548.7" y2="265.4"/>
<line x1="548.7" y1="44" x2="548.7" y2="56.7"/>
<line x1="581.3" y1="278.1" x2="581.3" y2="265.4"/>
<line x1="581.3" y1="44" x2="581.3" y2="56.7"/>
<line x1="613.8" y1="278.1" x2="613.8" y2="259.4"/>
<line x1="613.8" y1="44" x2="613.8" y2="62.6"/>
<line x1="646.4" y1="278.1" x2="646.4" y2="265.4"/>
<line x1="646.4" y1="44" x2="646.4" y2="56.7"/>
<line x1="678.9" y1="278.1" x2="678.9" y2="265.4"/>
<line x1="678.9" y1="44" x2="678.9" y2="56.7"/>
<line x1="711.5" y1="278.1" x2="711.5" y2="265.4"/>
<line x1="711.5" y1="44" x2="711.5" y2="56.7"/>
<line x1="744" y1="278.1" x2="744" y2="265.4"/>
<line x1="744" y1="44" x2="744" y2="56.7"/>
<line x1="776.6" y1="278.1" x2="776.6" y2="259.4"/>
<line x1="776.6" y1="44" x2="776.6" y2="62.6"/>
<line x1="809.2" y1="278.1" x2="809.2" y2="265.4"/>
<line x1="809.2" y1="44" x2="809.2" y2="56.7"/>
<line x1="841.7" y1="278.1" x2="841.7" y2="265.4"/>
<line x1="841.7" y1="44" x2="841.7" y2="56.7"/>
<line x1="874.3" y1="278.1" x2="874.3" y2="265.4"/>
<line x1="874.3" y1="44" x2="874.3" y2="56.7"/>
<line x1="906.8" y1="278.1" x2="906.8" y2="265.4"/>
<line x1="906.8" y1="44" x2="906.8" y2="56.7"/>
<line x1="939.4" y1="278.1" x2="939.4" y2="259.4"/>
<line x1="939.4" y1="44" x2="939.4" y2="62.6"/>
<line x1="971.9" y1="278.1" x2="971.9" y2="265.4"/>
<line x1="971.9" y1="44" x2="971.9" y2="56.7"/>
<line x1="1004.5" y1="278.1" x2="1004.5" y2="265.4"/>
<line x1="1004.5" y1="44" x2="1004.5" y2="56.7"/>
<line x1="1037" y1="278.1" x2="1037" y2="265.4"/>
<line x1="1037" y1="44" x2="1037" y2="56.7"/>
<line x1="1069.6" y1="278.1" x2="1069.6" y2="265.4"/>
<line x1="1069.6" y1="44" x2="1069.6" y2="56.7"/>
<line x1="158.1" y1="528" x2="158.1" y2="515.3"/>
<line x1="190.6" y1="528" x2="190.6" y2="515.3"/>
<line x1="223.2" y1="528" x2="223.2" y2="515.3"/>
<line x1="255.7" y1="528" x2="255.7" y2="515.3"/>
<line x1="288.3" y1="528" x2="288.3" y2="509.4"/>
<line x1="320.8" y1="528" x2="320.8" y2="515.3"/>
<line x1="353.4" y1="528" x2="353.4" y2="515.3"/>
<line x1="385.9" y1="528" x2="385.9" y2="515.3"/>
<line x1="418.5" y1="528" x2="418.5" y2="515.3"/>
<line x1="451.1" y1="528" x2="451.1" y2="509.4"/>
<line x1="483.6" y1="528" x2="483.6" y2="515.3"/>
<line x1="516.2" y1="528" x2="516.2" y2="515.3"/>
<line x1="548.7" y1="528" x2="548.7" y2="515.3"/>
<line x1="581.3" y1="528" x2="581.3" y2="515.3"/>
<line x1="613.8" y1="528" x2="613.8" y2="509.4"/>
<line x1="646.4" y1="528" x2="646.4" y2="515.3"/>
<line x1="678.9" y1="528" x2="678.9" y2="515.3"/>
<line x1="711.5" y1="528" x2="711.5" y2="515.3"/>
<line x1="744" y1="528" x2="744" y2="515.3"/>
<line x1="776.6" y1="528" x2="776.6" y2="509.4"/>
<line x1="809.2" y1="528" x2="809.2" y2="515.3"/>
<line x1="841.7" y1="528" x2="841.7" y2="515.3"/>
<line x1="874.3" y1="528" x2="874.3" y2="515.3"/>
<line x1="906.8" y1="528" x2="906.8" y2="515.3"/>
<line x1="939.4" y1="528" x2="939.4" y2="509.4"/>
<line x1="971.9" y1="528" x2="971.9" y2="515.3"/>
<line x1="1004.5" y1="528" x2="1004.5" y2="515.3"/>
<line x1="1037" y1="528" x2="1037" y2="515.3"/>
<line x1="1069.6" y1="528" x2="1069.6" y2="515.3"/>
<line x1="158.1" y1="777.5" x2="158.1" y2="764.8"/>
<line x1="190.6" y1="777.5" x2="190.6" y2="764.8"/>
<line x1="223.2" y1="777.5" x2="223.2" y2="764.8"/>
<line x1="255.7" y1="777.5" x2="255.7" y2="764.8"/>
<line x1="288.3" y1="777.5" x2="288.3" y2="758.9"/>
<line x1="320.8" y1="777.5" x2="320.8" y2="764.8"/>
<line x1="353.4" y1="777.5" x2="353.4" y2="764.8"/>
<line x1="385.9" y1="777.5" x2="385.9" y2="764.8"/>
<line x1="418.5" y1="777.5" x2="418.5" y2="764.8"/>
<line x1="451.1" y1="777.5" x2="451.1" y2="758.9"/>
<line x1="483.6" y1="777.5" x2="483.6" y2="764.8"/>
<line x1="516.2" y1="777.5" x2="516.2" y2="764.8"/>
<line x1="548.7" y1="777.5" x2="548.7" y2="764.8"/>
<line x1="581.3" y1="777.5" x2="581.3" y2="764.8"/>
<line x1="613.8" y1="777.5" x2="613.8" y2="758.9"/>
<line x1="646.4" y1="777.5" x2="646.4" y2="764.8"/>
<line x1="678.9" y1="777.5" x2="678.9" y2="764.8"/>
<line x1="711.5" y1="777.5" x2="711.5" y2="764.8"/>
<line x1="744" y1="777.5" x2="744" y2="764.8"/>
<line x1="776.6" y1="777.5" x2="776.6" y2="758.9"/>
<line x1="809.2" y1="777.5" x2="809.2" y2="764.8"/>
<line x1="841.7" y1="777.5" x2="841.7" y2="764.8"/>
<line x1="874.3" y1="777.5" x2="874.3" y2="764.8"/>
<line x1="906.8" y1="777.5" x2="906.8" y2="764.8"/>
<line x1="939.4" y1="777.5" x2="939.4" y2="758.9"/>
<line x1="971.9" y1="777.5" x2="971.9" y2="764.8"/>
<line x1="1004.5" y1="777.5" x2="1004.5" y2="764.8"/>
<line x1="1037" y1="777.5" x2="1037" y2="764.8"/>
<line x1="1069.6" y1="777.5" x2="1069.6" y2="764.8"/>
<line x1="158.1" y1="1028.3" x2="158.1" y2="1015.6"/>
<line x1="190.6" y1="1028.3" x2="190.6" y2="1015.6"/>
<line x1="223.2" y1="1028.3" x2="223.2" y2="1015.6"/>
<line x1="255.7" y1="1028.3" x2="255.7" y2="1015.6"/>
<line x1="288.3" y1="1028.3" x2="288.3" y2="1009.7"/>
<line x1="320.8" y1="1028.3" x2="320.8" y2="1015.6"/>
<line x1="353.4" y1="1028.3" x2="353.4" y2="1015.6"/>
<line x1="385.9" y1="1028.3" x2="385.9" y2="1015.6"/>
<line x1="418.5" y1="1028.3" x2="418.5" y2="1015.6"/>
<line x1="451.1" y1="1028.3" x2="451.1" y2="1009.7"/>
<line x1="483.6" y1="1028.3" x2="483.6" y2="1015.6"/>
<line x1="516.2" y1="1028.3" x2="516.2" y2="1015.6"/>
<line x1="548.7" y1="1028.3" x2="548.7" y2="1015.6"/>
<line x1="581.3" y1="1028.3" x2="581.3" y2="1015.6"/>
<line x1="613.8" y1="1028.3" x2="613.8" y2="1009.7"/>
<line x1="646.4" y1="1028.3" x2="646.4" y2="1015.6"/>
<line x1="678.9" y1="1028.3" x2="678.9" y2="1015.6"/>
<line x1="711.5" y1="1028.3" x2="711.5" y2="1015.6"/>
<line x1="744" y1="1028.3" x2="744" y2="1015.6"/>
<line x1="776.6" y1="1028.3" x2="776.6" y2="1009.7"/>
<line x1="809.2" y1="1028.3" x2="809.2" y2="1015.6"/>
<line x1="841.7" y1="1028.3" x2="841.7" y2="1015.6"/>
<line x1="874.3" y1="1028.3" x2="874.3" y2="1015.6"/>
<line x1="906.8" y1="1028.3" x2="906.8" y2="1015.6"/>
<line x1="939.4" y1="1028.3" x2="939.4" y2="1009.7"/>
<line x1="971.9" y1="1028.3" x2="971.9" y2="1015.6"/>
<line x1="1004.5" y1="1028.3" x2="1004.5" y2="1015.6"/>
<line x1="1037" y1="1028.3" x2="1037" y2="1015.6"/>
<line x1="1069.6" y1="1028.3" x2="1069.6" y2="1015.6"/>
<line x1="158.1" y1="1277.2" x2="158.1" y2="1264.5"/>
<line x1="190.6" y1="1277.2" x2="190.6" y2="1264.5"/>
<line x1="223.2" y1="1277.2" x2="223.2" y2="1264.5"/>
<line x1="255.7" y1="1277.2" x2="255.7" y2="1264.5"/>
<line x1="288.3" y1="1277.2" x2="288.3" y2="1258.7"/>
<line x1="320.8" y1="1277.2" x2="320.8" y2="1264.5"/>
<line x1="353.4" y1="1277.2" x2="353.4" y2="1264.5"/>
<line x1="385.9" y1="1277.2" x2="385.9" y2="1264.5"/>
<line x1="418.5" y1="1277.2" x2="418.5" y2="1264.5"/>
<line x1="451.1" y1="1277.2" x2="451.1" y2="1258.7"/>
<line x1="483.6" y1="1277.2" x2="483.6" y2="1264.5"/>
<line x1="516.2" y1="1277.2" x2="516.2" y2="1264.5"/>
<line x1="548.7" y1="1277.2" x2="548.7" y2="1264.5"/>
<line x1="581.3" y1="1277.2" x2="581.3" y2="1264.5"/>
<line x1="613.8" y1="1277.2" x2="613.8" y2="1258.7"/>
<line x1="646.4" y1="1277.2" x2="646.4" y2="1264.5"/>
<line x1="678.9" y1="1277.2" x2="678.9" y2="1264.5"/>
<line x1="711.5" y1="1277.2" x2="711.5" y2="1264.5"/>
<line x1="744" y1="1277.2" x2="744" y2="1264.5"/>
<line x1="776.6" y1="1277.2" x2="776.6" y2="1258.7"/>
<line x1="809.2" y1="1277.2" x2="809.2" y2="1264.5"/>
<line x1="841.7" y1="1277.2" x2="841.7" y2="1264.5"/>
<line x1="874.3" y1="1277.2" x2="874.3" y2="1264.5"/>
<line x1="906.8" y1="1277.2" x2="906.8" y2="1264.5"/>
<line x1="939.4" y1="1277.2" x2="939.4" y2="1258.7"/>
<line x1="971.9" y1="1277.2" x2="971.9" y2="1264.5"/>
<line x1="1004.5" y1="1277.2" x2="1004.5" y2="1264.5"/>
<line x1="1037" y1="1277.2" x2="1037" y2="1264.5"/>
<line x1="1069.6" y1="1277.2" x2="1069.6" y2="1264.5"/>
<line x1="158.1" y1="1527.1" x2="158.1" y2="1514.4"/>
<line x1="190.6" y1="1527.1" x2="190.6" y2="1514.4"/>
<line x1="223.2" y1="1527.1" x2="223.2" y2="1514.4"/>
<line x1="255.7" y1="1527.1" x2="255.7" y2="1514.4"/>
<line x1="288.3" y1="1527.1" x2="288.3" y2="1508.5"/>
<line x1="320.8" y1="1527.1" x2="320.8" y2="1514.4"/>
<line x1="353.4" y1="1527.1" x2="353.4" y2="1514.4"/>
<line x1="385.9" y1="1527.1" x2="385.9" y2="1514.4"/>
<line x1="418.5" y1="1527.1" x2="418.5" y2="1514.4"/>
<line x1="451.1" y1="1527.1" x2="451.1" y2="1508.5"/>
<line x1="483.6" y1="1527.1" x2="483.6" y2="1514.4"/>
<line x1="516.2" y1="1527.1" x2="516.2" y2="1514.4"/>
<line x1="548.7" y1="1527.1" x2="548.7" y2="1514.4"/>
<line x1="581.3" y1="1527.1" x2="581.3" y2="1514.4"/>
<line x1="613.8" y1="1527.1" x2="613.8" y2="1508.5"/>
<line x1="646.4" y1="1527.1" x2="646.4" y2="1514.4"/>
<line x1="678.9" y1="1527.1" x2="678.9" y2="1514.4"/>
<line x1="711.5" y1="1527.1" x2="711.5" y2="1514.4"/>
<line x1="744" y1="1527.1" x2="744" y2="1514.4"/>
<line x1="776.6" y1="1527.1" x2="776.6" y2="1508.5"/>
<line x1="809.2" y1="1527.1" x2="809.2" y2="1514.4"/>
<line x1="841.7" y1="1527.1" x2="841.7" y2="1514.4"/>
<line x1="874.3" y1="1527.1" x2="874.3" y2="1514.4"/>
<line x1="906.8" y1="1527.1" x2="906.8" y2="1514.4"/>
<line x1="939.4" y1="1527.1" x2="939.4" y2="1508.5"/>
<line x1="971.9" y1="1527.1" x2="971.9" y2="1514.4"/>
<line x1="1004.5" y1="1527.1" x2="1004.5" y2="1514.4"/>
<line x1="1037" y1="1527.1" x2="1037" y2="1514.4"/>
<line x1="1069.6" y1="1527.1" x2="1069.6" y2="1514.4"/>
<line x1="158.1" y1="1777.1" x2="158.1" y2="1764.4"/>
<line x1="190.6" y1="1777.1" x2="190.6" y2="1764.4"/>
<line x1="223.2" y1="1777.1" x2="223.2" y2="1764.4"/>
<line x1="255.7" y1="1777.1" x2="255.7" y2="1764.4"/>
<line x1="288.3" y1="1777.1" x2="288.3" y2="1758.5"/>
<line x1="320.8" y1="1777.1" x2="320.8" y2="1764.4"/>
<line x1="353.4" y1="1777.1" x2="353.4" y2="1764.4"/>
<line x1="385.9" y1="1777.1" x2="385.9" y2="1764.4"/>
<line x1="418.5" y1="1777.1" x2="418.5" y2="1764.4"/>
<line x1="451.1" y1="1777.1" x2="451.1" y2="1758.5"/>
<line x1="483.6" y1="1777.1" x2="483.6" y2="1764.4"/>
<line x1="516.2" y1="1777.1" x2="516.2" y2="1764.4"/>
<line x1="548.7" y1="1777.1" x2="548.7" y2="1764.4"/>
<line x1="581.3" y1="1777.1" x2="581.3" y2="1764.4"/>
<line x1="613.8" y1="1777.1" x2="613.8" y2="1758.5"/>
<line x1="646.4" y1="1777.1" x2="646.4" y2="1764.4"/>
<line x1="678.9" y1="1777.1" x2="678.9" y2="1764.4"/>
<line x1="711.5" y1="1777.1" x2="711.5" y2="1764.4"/>
<line x1="744" y1="1777.1" x2="744" y2="1764.4"/>
<line x1="776.6" y1="1777.1" x2="776.6" y2="1758.5"/>
<line x1="809.2" y1="1777.1" x2="809.2" y2="1764.4"/>
<line x1="841.7" y1="1777.1" x2="841.7" y2="1764.4"/>
<line x1="874.3" y1="1777.1" x2="874.3" y2="1764.4"/>
<line x1="906.8" y1="1777.1" x2="906.8" y2="1764.4"/>
<line x1="939.4" y1="1777.1" x2="939.4" y2="1758.5"/>
<line x1="971.9" y1="1777.1" x2="971.9" y2="1764.4"/>
<line x1="1004.5" y1="1777.1" x2="1004.5" y2="1764.4"/>
<line x1="1037" y1="1777.1" x2="1037" y2="1764.4"/>
<line x1="1069.6" y1="1777.1" x2="1069.6" y2="1764.4"/>
<line x1="158.1" y1="2026.8" x2="158.1" y2="2014.1"/>
<line x1="190.6" y1="2026.8" x2="190.6" y2="2014.1"/>
<line x1="223.2" y1="2026.8" x2="223.2" y2="2014.1"/>
<line x1="255.7" y1="2026.8" x2="255.7" y2="2014.1"/>
<line x1="288.3" y1="2026.8" x2="288.3" y2="2008.2"/>
<line x1="320.8" y1="2026.8" x2="320.8" y2="2014.1"/>
<line x1="353.4" y1="2026.8" x2="353.4" y2="2014.1"/>
<line x1="385.9" y1="2026.8" x2="385.9" y2="2014.1"/>
<line x1="418.5" y1="2026.8" x2="418.5" y2="2014.1"/>
<line x1="451.1" y1="2026.8" x2="451.1" y2="2008.2"/>
<line x1="483.6" y1="2026.8" x2="483.6" y2="2014.1"/>
<line x1="516.2" y1="2026.8" x2="516.2" y2="2014.1"/>
<line x1="548.7" y1="2026.8" x2="548.7" y2="2014.1"/>
<line x1="581.3" y1="2026.8" x2="581.3" y2="2014.1"/>
<line x1="613.8" y1="2026.8" x2="613.8" y2="2008.2"/>
<line x1="646.4" y1="2026.8" x2="646.4" y2="2014.1"/>
<line x1="678.9" y1="2026.8" x2="678.9" y2="2014.1"/>
<line x1="711.5" y1="2026.8" x2="711.5" y2="2014.1"/>
<line x1="744" y1="2026.8" x2="744" y2="2014.1"/>
<line x1="776.6" y1="2026.8" x2="776.6" y2="2008.2"/>
<line x1="809.2" y1="2026.8" x2="809.2" y2="2014.1"/>
<line x1="841.7" y1="2026.8" x2="841.7" y2="2014.1"/>
<line x1="874.3" y1="2026.8" x2="874.3" y2="2014.1"/>
<line x1="906.8" y1="2026.8" x2="906.8" y2="2014.1"/>
<line x1="939.4" y1="2026.8" x2="939.4" y2="2008.2"/>
<line x1="971.9" y1="2026.8" x2="971.9" y2="2014.1"/>
<line x1="1004.5" y1="2026.8" x2="1004.5" y2="2014.1"/>
<line x1="1037" y1="2026.8" x2="1037" y2="2014.1"/>
<line x1="1069.6" y1="2026.8" x2="1069.6" y2="2014.1"/>
<line x1="125.5" y1="122" x2="144.1" y2="122"/>
<line x1="125.5" y1="200" x2="144.1" y2="200"/>
<line x1="125.5" y1="83" x2="138.2" y2="83"/>
<line x1="125.5" y1="161" x2="138.2" y2="161"/>
<line x1="125.5" y1="239" x2="138.2" y2="239"/>
<line x1="125.5" y1="366" x2="144.1" y2="366"/>
<line x1="125.5" y1="438" x2="144.1" y2="438"/>
<line x1="125.5" y1="510" x2="144.1" y2="510"/>
<line x1="125.5" y1="330" x2="138.2" y2="330"/>
<line x1="125.5" y1="402" x2="138.2" y2="402"/>
<line x1="125.5" y1="474" x2="138.2" y2="474"/>
<line x1="125.5" y1="590.3" x2="144.1" y2="590.3"/>
<line x1="125.5" y1="637.1" x2="144.1" y2="637.1"/>
<line x1="125.5" y1="683.9" x2="144.1" y2="683.9"/>
<line x1="125.5" y1="730.7" x2="144.1" y2="730.7"/>
<line x1="125.5" y1="566.9" x2="138.2" y2="566.9"/>
<line x1="125.5" y1="613.7" x2="138.2" y2="613.7"/>
<line x1="125.5" y1="660.5" x2="138.2" y2="660.5"/>
<line x1="125.5" y1="707.3" x2="138.2" y2="707.3"/>
<line x1="125.5" y1="754.1" x2="138.2" y2="754.1"/>
<line x1="125.5" y1="841.1" x2="144.1" y2="841.1"/>
<line x1="125.5" y1="887.9" x2="144.1" y2="887.9"/>
<line x1="125.5" y1="934.7" x2="144.1" y2="934.7"/>
<line x1="125.5" y1="981.5" x2="144.1" y2="981.5"/>
<line x1="125.5" y1="817.7" x2="138.2" y2="817.7"/>
<line x1="125.5" y1="864.5" x2="138.2" y2="864.5"/>
<line x1="125.5" y1="911.3" x2="138.2" y2="911.3"/>
<line x1="125.5" y1="958.1" x2="138.2" y2="958.1"/>
<line x1="125.5" y1="1004.9" x2="138.2" y2="1004.9"/>
<line x1="125.5" y1="1061.2" x2="144.1" y2="1061.2"/>
<line x1="125.5" y1="1115.2" x2="144.1" y2="1115.2"/>
<line x1="125.5" y1="1169.2" x2="144.1" y2="1169.2"/>
<line x1="125.5" y1="1223.2" x2="144.1" y2="1223.2"/>
<line x1="125.5" y1="1088.2" x2="138.2" y2="1088.2"/>
<line x1="125.5" y1="1142.2" x2="138.2" y2="1142.2"/>
<line x1="125.5" y1="1196.2" x2="138.2" y2="1196.2"/>
<line x1="125.5" y1="1250.2" x2="138.2" y2="1250.2"/>
<line x1="125.5" y1="1351.6" x2="144.1" y2="1351.6"/>
<line x1="125.5" y1="1410.1" x2="144.1" y2="1410.1"/>
<line x1="125.5" y1="1468.6" x2="144.1" y2="1468.6"/>
<line x1="125.5" y1="1322.4" x2="138.2" y2="1322.4"/>
<line x1="125.5" y1="1380.9" x2="138.2" y2="1380.9"/>
<line x1="125.5" y1="1439.4" x2="138.2" y2="1439.4"/>
<line x1="125.5" y1="1497.9" x2="138.2" y2="1497.9"/>
<line x1="125.5" y1="1621.1" x2="144.1" y2="1621.1"/>
<line x1="125.5" y1="1699.1" x2="144.1" y2="1699.1"/>
<line x1="125.5" y1="1582.1" x2="138.2" y2="1582.1"/>
<line x1="125.5" y1="1660.1" x2="138.2" y2="1660.1"/>
<line x1="125.5" y1="1738.1" x2="138.2" y2="1738.1"/>
</g>
<g font-size="26.0" text-anchor="end">
<text transform="translate(113.6,52.9) scale(1,1.065)">28</text>
<text transform="translate(113.6,130.9) scale(1,1.065)">26</text>
<text transform="translate(113.6,208.9) scale(1,1.065)">24</text>
<text transform="translate(113.6,286.9) scale(1,1.065)">22</text>
<text transform="translate(113.6,302.8) scale(1,1.065)">2</text>
<text transform="translate(113.6,374.9) scale(1,1.065)">3</text>
<text transform="translate(113.6,446.9) scale(1,1.065)">4</text>
<text transform="translate(113.6,518.9) scale(1,1.065)">5</text>
<text transform="translate(113.6,552.4) scale(1,1.065)">50</text>
<text transform="translate(113.6,599.2) scale(1,1.065)">40</text>
<text transform="translate(113.6,646) scale(1,1.065)">30</text>
<text transform="translate(113.6,692.8) scale(1,1.065)">20</text>
<text transform="translate(113.6,739.6) scale(1,1.065)">10</text>
<text transform="translate(113.6,803.1) scale(1,1.065)">2.0</text>
<text transform="translate(113.6,850) scale(1,1.065)">2.5</text>
<text transform="translate(113.6,896.8) scale(1,1.065)">3.0</text>
<text transform="translate(113.6,943.6) scale(1,1.065)">3.5</text>
<text transform="translate(113.6,990.4) scale(1,1.065)">4.0</text>
<text transform="translate(113.6,1037.2) scale(1,1.065)">4.5</text>
<text transform="translate(113.6,1070.1) scale(1,1.065)">24</text>
<text transform="translate(113.6,1124.1) scale(1,1.065)">18</text>
<text transform="translate(113.6,1178.1) scale(1,1.065)">12</text>
<text transform="translate(113.6,1232.1) scale(1,1.065)">6</text>
<text transform="translate(113.6,1302) scale(1,1.065)">20</text>
<text transform="translate(113.6,1360.5) scale(1,1.065)">15</text>
<text transform="translate(113.6,1419) scale(1,1.065)">10</text>
<text transform="translate(113.6,1477.5) scale(1,1.065)">5</text>
<text transform="translate(113.6,1552) scale(1,1.065)">30</text>
<text transform="translate(113.6,1630) scale(1,1.065)">20</text>
<text transform="translate(113.6,1708) scale(1,1.065)">10</text>
<text transform="translate(113.6,1786) scale(1,1.065)">0</text>
</g>
<g font-size="26.0" text-anchor="middle">
<text font-size="26.8" transform="translate(126.6,2054.6) scale(1,1.04)">0</text>
<text font-size="26.8" transform="translate(289.4,2054.6) scale(1,1.04)">1</text>
<text font-size="26.8" transform="translate(452.2,2054.6) scale(1,1.04)">2</text>
<text font-size="26.8" transform="translate(614.9,2054.6) scale(1,1.04)">3</text>
<text font-size="26.8" transform="translate(777.7,2054.6) scale(1,1.04)">4</text>
<text font-size="26.8" transform="translate(940.5,2054.6) scale(1,1.04)">5</text>
<text font-size="26.8" transform="translate(1103.2,2054.6) scale(1,1.04)">6</text>
</g>
<text x="619.2" y="2088.6" font-size="26.3" text-anchor="middle">Age (Ma)</text>
<text x="290" y="27.5" font-size="24.5" text-anchor="middle">MPT</text>
<text x="589" y="27.5" font-size="24.5" text-anchor="middle">NHG</text>
<g font-size="34" font-weight="bold">
<text x="1067" y="86.2">a</text>
<text x="1066.5" y="339.3">b</text>
<text x="1067.5" y="577.8">c</text>
<text x="1067.5" y="835.7">d</text>
<text x="1067.5" y="1080.7">e</text>
<text x="1071" y="1340.7">f</text>
<text x="1067.5" y="1582">g</text>
<text x="1067.5" y="1838.1">h</text>
</g>
<text transform="translate(49.3,160.5) rotate(-90)" text-anchor="middle" font-size="25">SST (°C)</text>
<text transform="translate(49.3,411.3) rotate(-90)" text-anchor="middle" font-size="25">δ<tspan dy="-13" font-size="13">18</tspan><tspan dy="13">O (‰)</tspan><tspan dy="5.5" font-size="13"> BF</tspan></text>
<text transform="translate(49.3,625.5) rotate(-90)" text-anchor="middle" font-size="24.6"><tspan font-style="italic">G. bulloides</tspan> (%)</text>
<text transform="translate(49.3,911.4) rotate(-90)" text-anchor="middle" font-size="25">δ<tspan dy="-13" font-size="13">18</tspan><tspan dy="13">O (‰)</tspan><tspan dy="5.5" font-size="13"> BF</tspan></text>
<text transform="translate(49.3,1159.5) rotate(-90)" text-anchor="middle" font-size="24.75"><tspan font-style="italic">N. umbonifera</tspan> (%)</text>
<text transform="translate(49.3,1408.7) rotate(-90)" text-anchor="middle" font-size="24.8"><tspan font-style="italic">E. exigua</tspan> (%)</text>
<text transform="translate(49.3,1659.5) rotate(-90)" text-anchor="middle" font-size="24.75"><tspan font-style="italic">U. proboscidea</tspan> (%)</text>
<text transform="translate(24.5,1912.9) rotate(-90)" text-anchor="middle" font-size="26.2">Benthic foraminifera</text>
<text transform="translate(54.7,1912.3) rotate(-90)" text-anchor="middle" font-size="26.3">Biofacies</text>
<text transform="translate(1133.5,164.6) rotate(-90)" text-anchor="middle" font-size="26.4">Herbert et al., 2010</text>
<text transform="translate(1164.2,164.6) rotate(-90)" text-anchor="middle" font-size="26.4">ODP Site 722</text>
<text transform="translate(1133.7,540.5) rotate(-90)" text-anchor="middle" font-size="26.4">Clemens et al.,1996</text>
<text transform="translate(1164.2,540.7) rotate(-90)" text-anchor="middle" font-size="26.4">ODP Site 722</text>
<text transform="translate(1133.7,1432.5) rotate(-90)" text-anchor="middle" font-size="26.4">Gupta and Thomas, 2003</text>
<text transform="translate(1164.2,1432) rotate(-90)" text-anchor="middle" font-size="26.4">ODP Site 758</text>
<g stroke="#000" stroke-width="2.2">
<line x1="1125.6" y1="303" x2="1125.6" y2="403.7"/>
<line x1="1125.6" y1="678" x2="1125.6" y2="771"/>
<line x1="1125.6" y1="803" x2="1125.6" y2="1240"/>
<line x1="1125.6" y1="1622" x2="1125.6" y2="2022"/>
</g>
<path d="M1125.6,295.8 L1130.4,302.8 L1130.5,309.8 L1126.7,305.4 L1124.5,305.4 L1120.7,309.8 L1120.8,302.8 Z" fill="#000"/>
<path d="M1125.6,778.8 L1130.4,771.8 L1130.5,764.8 L1126.7,769.2 L1124.5,769.2 L1120.7,764.8 L1120.8,771.8 Z" fill="#000"/>
<path d="M1125.6,796 L1130.4,803 L1130.5,810 L1126.7,805.6 L1124.5,805.6 L1120.7,810 L1120.8,803 Z" fill="#000"/>
<path d="M1125.6,2029.4 L1130.4,2022.4 L1130.5,2015.4 L1126.7,2019.8 L1124.5,2019.8 L1120.7,2015.4 L1120.8,2022.4 Z" fill="#000"/>
</svg></body></html>
